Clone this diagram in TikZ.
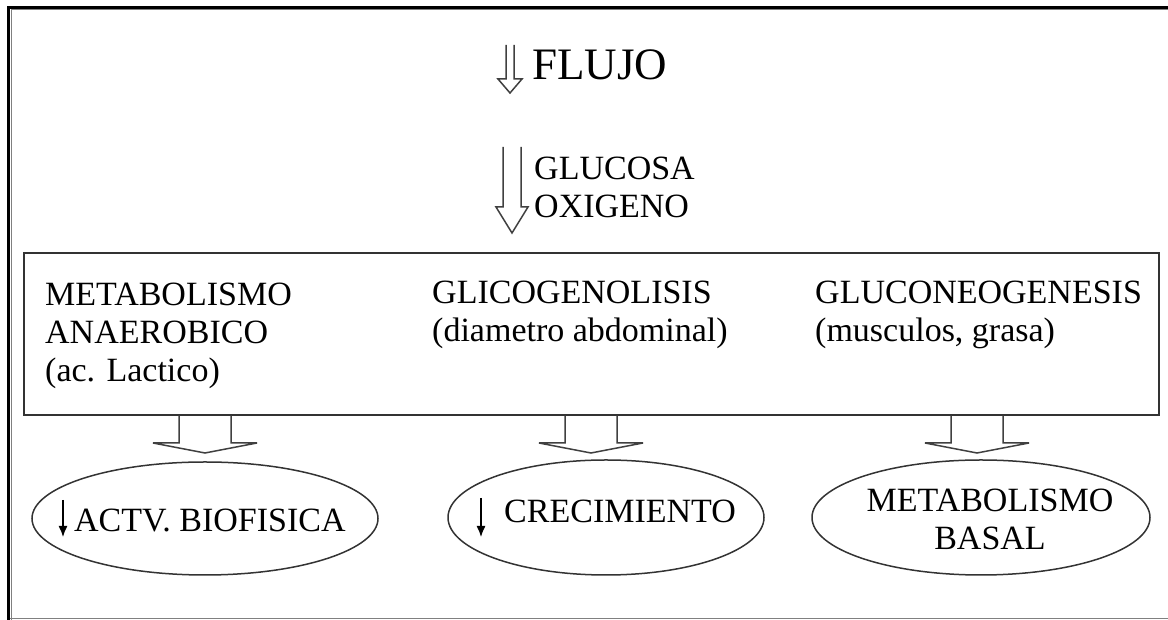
\documentclass[tikz,border=0pt]{standalone}
\usepackage{fontspec}
\setmainfont{Liberation Serif}
\usetikzlibrary{shapes.geometric,arrows.meta,calc}

\newcommand{\hollowdown}[5]{\draw[hollow] let \p1=(#1), \p2=(#2) in
  (\x1-#3pt,\y2) -- (\x1-#3pt,\y1+#5pt) -- (\x1-#4pt,\y1+#5pt) -- (\x1,\y1)
  -- (\x1+#4pt,\y1+#5pt) -- (\x1+#3pt,\y1+#5pt) -- (\x1+#3pt,\y2);}

\begin{document}
\begin{tikzpicture}[x=1pt,y=1pt,txt/.style={inner sep=0pt,align=left,font=\fontsize{34}{38}\selectfont},box/.style={draw=black!80,line width=1.5pt,minimum width=1135pt,minimum height=162pt,inner sep=0pt},oval/.style={draw=black!80,line width=1.5pt,ellipse,inner sep=0pt},hollow/.style={draw=black!75,line width=1.5pt,line join=miter},down/.style={line width=1.3pt,-{Latex[length=11pt,width=9pt]}}]
\useasboundingbox (0,0) rectangle (1168,620);
\draw[gray,line width=1pt] (11,0) -- (11,610.5) -- (1168,610.5);
\draw[gray,line width=1pt] (7,1) -- (1168,1);
\draw[line width=3pt] (8.5,0) -- (8.5,612.5) -- (1168,612.5);

\node[txt,font=\fontsize{45}{50}\selectfont,anchor=base west] (flujo) at (532,540) {FLUJO};
\hollowdown{510,527}{510,575}{4}{12}{14}
\node[txt,anchor=base west] (gluc) at (534,402) {GLUCOSA\\OXIGENO};
\coordinate (gtip) at (512,387);
\hollowdown{gtip}{512,473}{9}{16}{26}

\node[box] (box) at (591.5,286) {};
\node[txt,anchor=base west] (anaer) at (45,238) {METABOLISMO\\ANAEROBICO\\(ac. Lactico)};
\node[txt,anchor=base west] (glico) at (432,278) {GLICOGENOLISIS\\(diametro abdominal)};
\node[txt,anchor=base west] (gluco) at (815,278) {GLUCONEOGENESIS\\(musculos, grasa)};

\node[oval,minimum width=346pt,minimum height=113pt] (actv) at (205,101.5) {};
\node[oval,minimum width=316pt,minimum height=115pt] (crec) at (606,102.5) {};
\node[oval,minimum width=338pt,minimum height=115pt] (basal) at (981,102.5) {};
\coordinate (a1) at (205,167);
\coordinate (a2) at (591,167);
\coordinate (a3) at (977,167);
\hollowdown{a1}{box.south}{26}{52}{10}
\hollowdown{a2}{box.south}{26}{52}{10}
\hollowdown{a3}{box.south}{26}{52}{10}

\node[txt,anchor=base west] (actvt) at (74,88) {ACTV. BIOFISICA};
\draw[down] ($(actvt.base west)+(-11,32)$) -- ($(actvt.base west)+(-11,-5)$);
\node[txt,anchor=base west] (crect) at (504,97) {CRECIMIENTO};
\draw[down] ($(crect.base west)+(-23,25)$) -- ($(crect.base west)+(-23,-14)$);
\node[txt,align=center,anchor=base] (basalt) at (990,70) {METABOLISMO\\BASAL};
\end{tikzpicture}
\end{document}
